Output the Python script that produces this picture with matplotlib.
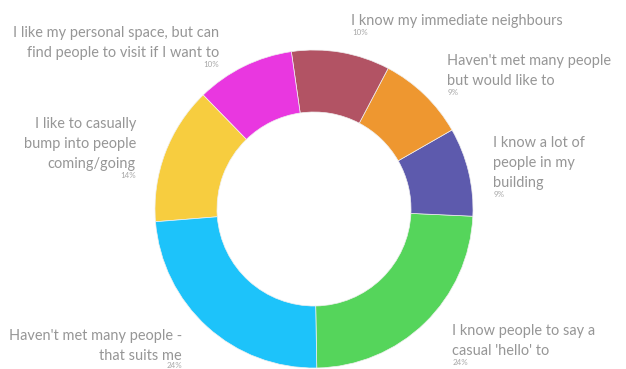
import matplotlib.pyplot as plt

labels = [
    ["I know people to say a", "casual 'hello' to"],
    ["I know a lot of", "people in my", "building"],
    ["Haven't met many people", "but would like to"],
    ["I know my immediate neighbours"],
    ["I like my personal space, but can", "find people to visit if I want to"],
    ["I like to casually", "bump into people", "coming/going"],
    ["Haven't met many people -", "that suits me"],
]
shares = [24, 9, 9, 10, 10, 14, 24]
colors = ['#55d55b', '#5d5aad', '#ee9730', '#b25364', '#e937e0', '#f7cd3f', '#1dc3fa']

# x anchor, first baseline (pixels from top), alignment
label_pos = [
    (452, 335, 'left'),
    (493, 147, 'left'),
    (447, 65, 'left'),
    (351, 25, 'left'),
    (219, 37, 'right'),
    (136, 128, 'right'),
    (182, 340, 'right'),
]

W, H = 626, 369
fig = plt.figure(figsize=(W / 100, H / 100), dpi=100)
ax = fig.add_axes([0, 0, 1, 1])

ax.pie(shares, colors=colors, startangle=-89, counterclock=True,
       center=(314, H - 209), radius=159,
       wedgeprops=dict(width=159 - 97, edgecolor='#f0f0f0', linewidth=0.5),
       frame=True)
ax.set_xlim(0, W)
ax.set_ylim(0, H)
ax.axis('off')

step = 20
for lines, val, (x, y, ha) in zip(labels, shares, label_pos):
    for i, line in enumerate(lines):
        ax.text(x, H - (y + i * step), line, ha=ha, va='baseline',
                fontsize=10.45, family='Lato', color='#969696')
    last = y + (len(lines) - 1) * step
    ax.text(x + (1 if ha == 'left' else 0), H - min(last + 10, 368), f'{val}%',
            ha=ha, va='baseline', fontsize=5.8, family='Lato',
            color='#a8a8a8')

fig.savefig('out.png', dpi=100)
